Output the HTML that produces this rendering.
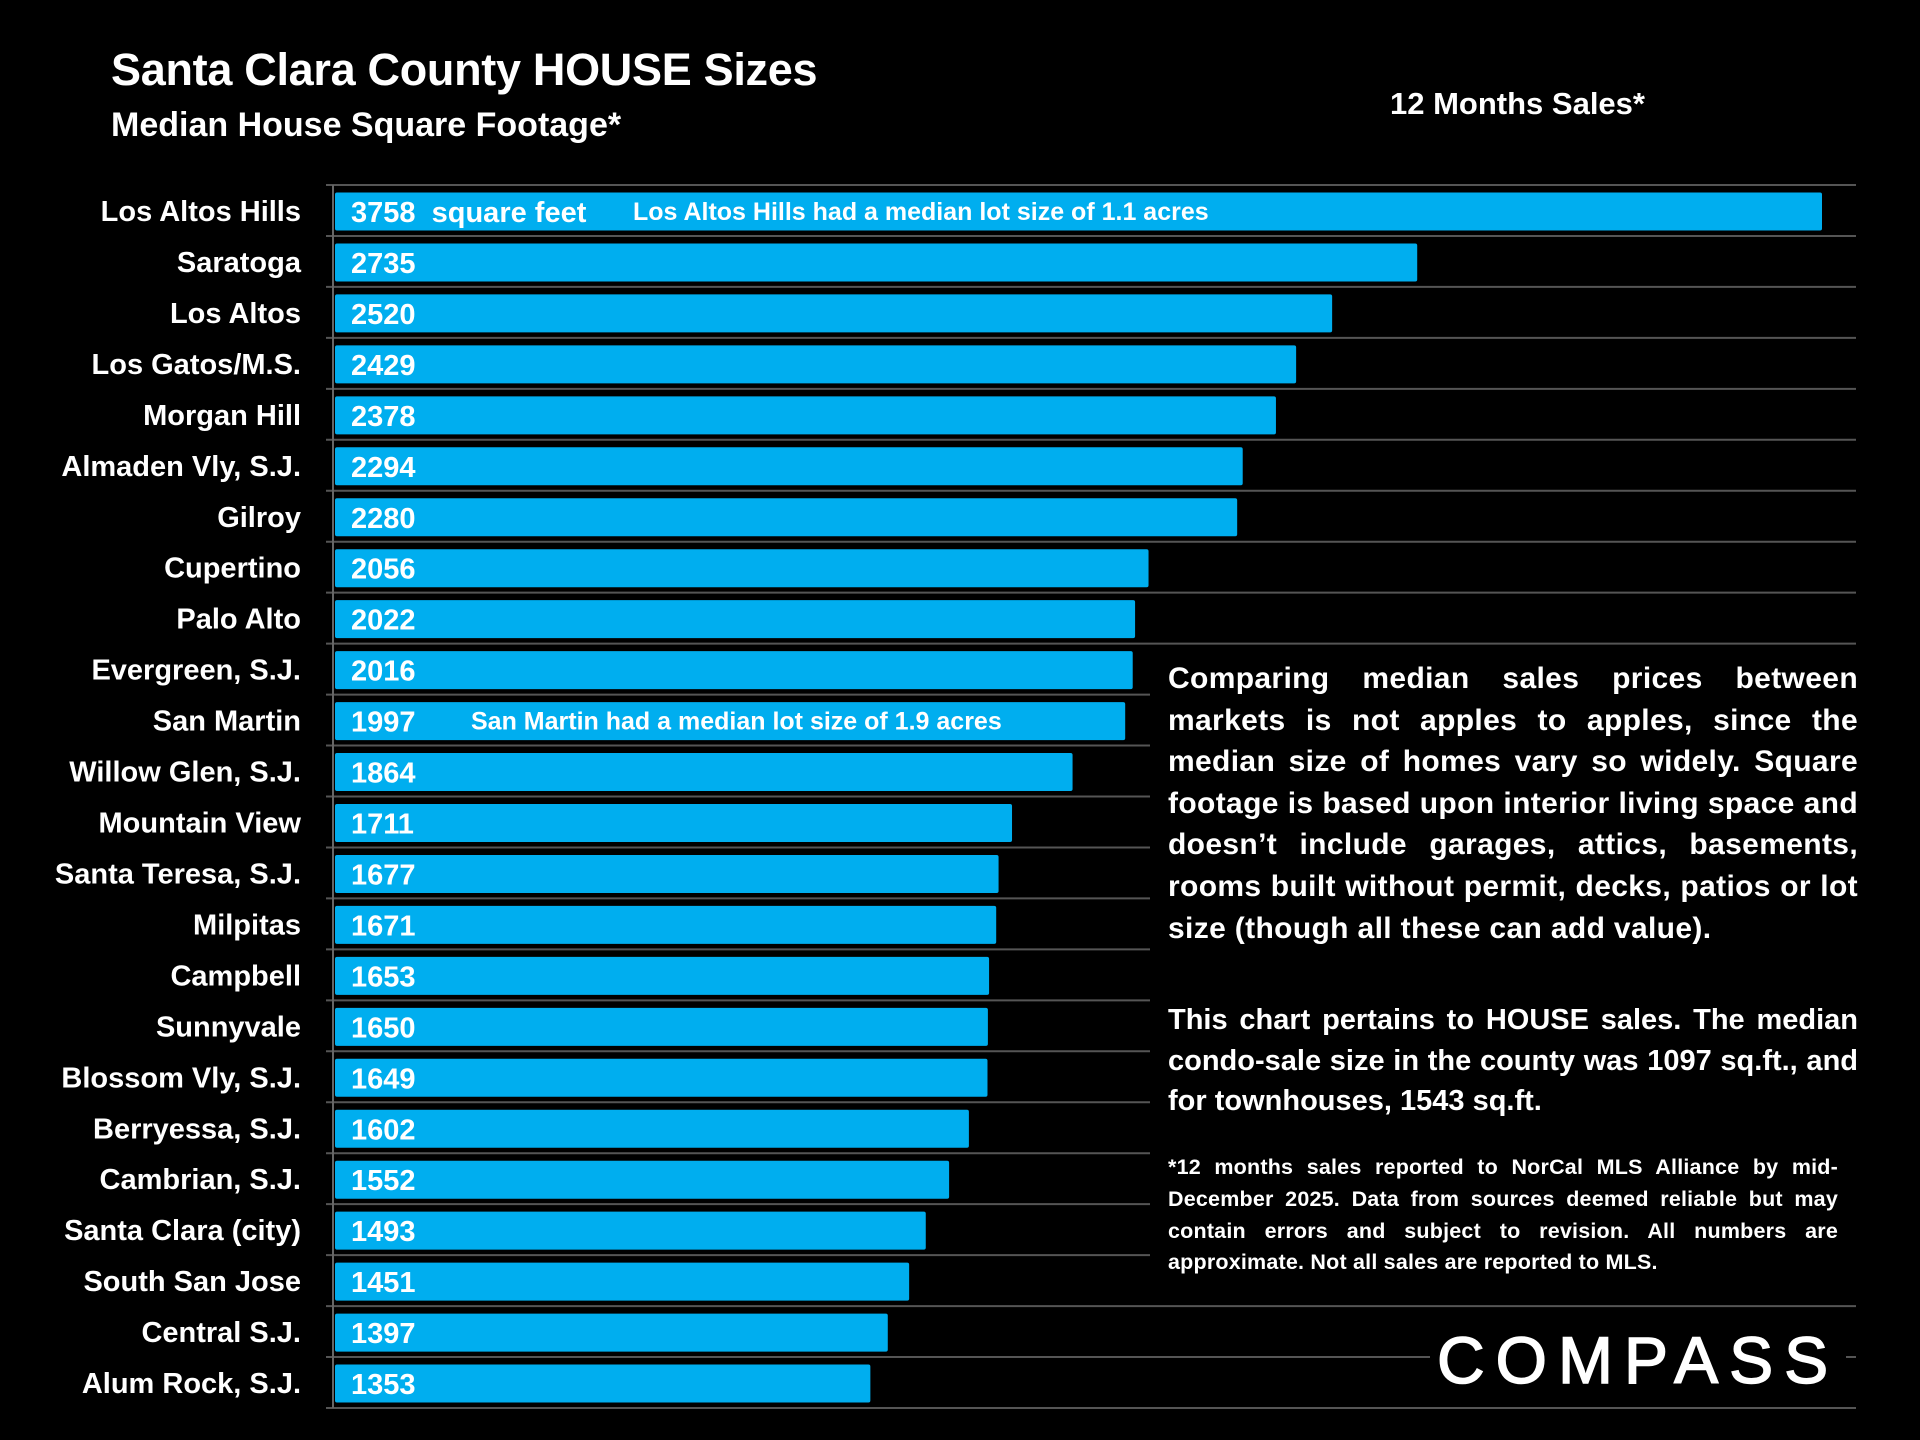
<!DOCTYPE html>
<html><head><meta charset="utf-8"><style>
html,body{margin:0;padding:0;background:#000;}
#root{position:relative;width:1920px;height:1440px;background:#000;overflow:hidden;font-family:"Liberation Sans",sans-serif;color:#fff;}
.t{position:absolute;font-weight:bold;white-space:nowrap;}
.para{position:absolute;font-weight:bold;text-align:justify;}
</style></head><body>
<div id="root">
<div class="t" style="left:111px;top:44px;font-size:45px;letter-spacing:-0.3px;">Santa Clara County HOUSE Sizes</div>
<div class="t" style="left:111px;top:106px;font-size:34px;letter-spacing:0px;">Median House Square Footage*</div>
<div class="t" style="left:1390px;top:86px;font-size:31px;">12 Months Sales*</div>
<svg id="chart" width="1920" height="1440" style="position:absolute;left:0;top:0"></svg>
<div style="position:absolute;left:1150px;top:648px;width:720px;height:640px;background:#000"></div>
<div class="para" style="left:1168px;top:658px;width:690px;font-size:30px;letter-spacing:0.35px;line-height:41.6px;">Comparing median sales prices between markets is not apples to apples, since the median size of homes vary so widely. Square footage is based upon interior living space and doesn’t include garages, attics, basements, rooms built without permit, decks, patios or lot size (though all these can add value).</div>
<div class="para" style="left:1168px;top:1000px;width:690px;font-size:29px;line-height:40.5px;">This chart pertains to HOUSE sales. The median condo-sale size in the county was 1097 sq.ft., and for townhouses, 1543 sq.ft.</div>
<div class="para" style="left:1168px;top:1152px;width:670px;font-size:21.5px;letter-spacing:0.2px;line-height:31.8px;">*12 months sales reported to NorCal MLS Alliance by mid-December 2025. Data from sources deemed reliable but may contain errors and subject to revision. All numbers are approximate. Not all sales are reported to MLS.</div>
<div style="position:absolute;left:1430px;top:1320px;width:416px;height:80px;background:#000"></div>
<div class="t" style="left:1437px;top:1322px;font-size:66px;font-weight:normal;letter-spacing:11px;-webkit-text-stroke:1.5px #fff;">COMPASS</div>
</div>
<script>
const categories=["Los Altos Hills","Saratoga","Los Altos","Los Gatos/M.S.","Morgan Hill","Almaden Vly, S.J.","Gilroy","Cupertino","Palo Alto","Evergreen, S.J.","San Martin","Willow Glen, S.J.","Mountain View","Santa Teresa, S.J.","Milpitas","Campbell","Sunnyvale","Blossom Vly, S.J.","Berryessa, S.J.","Cambrian, S.J.","Santa Clara (city)","South San Jose","Central S.J.","Alum Rock, S.J."];
const values=[3758,2735,2520,2429,2378,2294,2280,2056,2022,2016,1997,1864,1711,1677,1671,1653,1650,1649,1602,1552,1493,1451,1397,1353];
const notes={"Los Altos Hills":"Los Altos Hills had a median lot size of 1.1 acres","San Martin":"San Martin had a median lot size of 1.9 acres"};
const svg=document.getElementById('chart');
const NS='http://www.w3.org/2000/svg';
const x0=335,xScale=v=>x0+v*((1822-335)/3758);
const top0=185,bottom0=1408,rowH=(bottom0-top0)/categories.length;
const yRow=i=>top0+i*rowH;
function mk(tag,attrs){const e=document.createElementNS(NS,tag);for(const k in attrs)e.setAttribute(k,attrs[k]);svg.appendChild(e);return e;}
for(let i=0;i<=categories.length;i++){
  const g=mk('line',{x1:326,x2:1856,y1:yRow(i),y2:yRow(i),stroke:'#555','stroke-width':2});
  
  
}
const ax=mk('line',{x1:333,x2:333,y1:top0,y2:bottom0,stroke:'#666','stroke-width':2});


categories.forEach((c,i)=>{
  const y=yRow(i);
  const r=mk('rect',{x:x0,y:y+7.5,width:xScale(values[i])-x0,height:38,fill:'#00aeef',rx:2});
  
  
  const l=mk('text',{x:301,y:y+36,'text-anchor':'end',fill:'#fff','font-size':29,'font-weight':'bold','font-family':'Liberation Sans, sans-serif'});
  l.textContent=c;
  
  
  const v=mk('text',{x:351,y:y+37,fill:'#fff','font-size':29,'font-weight':'bold','font-family':'Liberation Sans, sans-serif',style:'white-space:pre'});
  v.textContent=values[i]+(i===0?'  square feet':'');
  
  
  if(notes[c]){
    const n=mk('text',{x:i===0?633:471,y:y+35,fill:'#fff','font-size':25,'font-weight':'bold','font-family':'Liberation Sans, sans-serif'});
    n.textContent=notes[c];
    
    
  }
});
</script>
</body></html>
